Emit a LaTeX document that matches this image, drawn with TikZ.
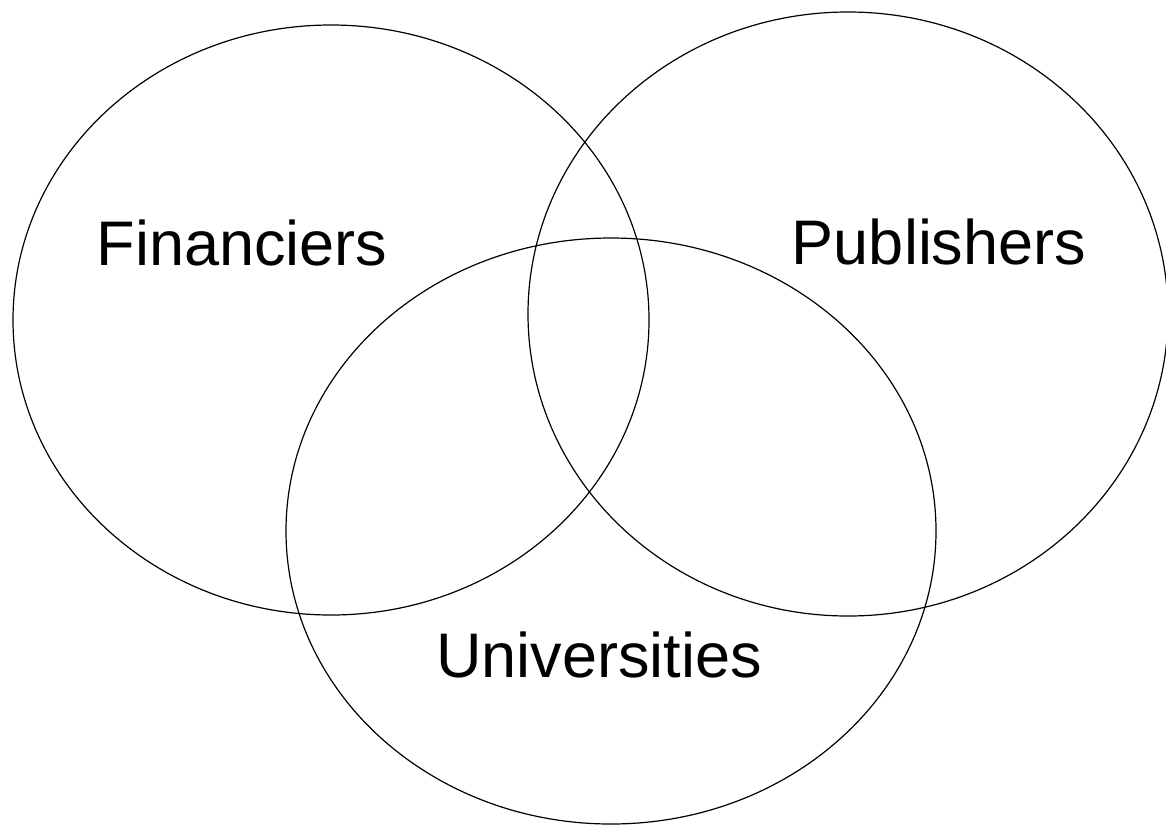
\documentclass[tikz,border=0pt]{standalone}
\usepackage{fontspec}
\setmainfont{Liberation Sans}

\begin{document}
\begin{tikzpicture}[x=0.5pt, y=0.5pt, line width=0.6pt,
    setlabel/.style={anchor=base, font=\fontsize{31.5}{37}\selectfont}]
  \useasboundingbox (0, 0) rectangle (1166, -825);

  % Sets
  \draw (331, -320) ellipse [x radius=318, y radius=295];
  \draw (848, -314) ellipse [x radius=320, y radius=302];
  \draw (611, -531) ellipse [x radius=325, y radius=293];

  % Set labels
  \node[setlabel] (fin) at (242, -265) {Financiers};
  \node[setlabel] (pub) at (939, -264) {Publishers};
  \node[setlabel] (uni) at (599, -677) {Universities};
\end{tikzpicture}
\end{document}
